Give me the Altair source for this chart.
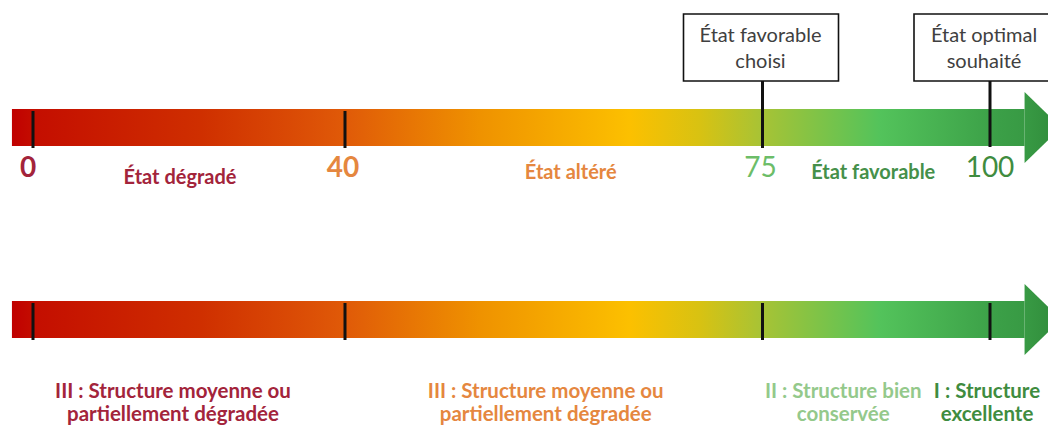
import altair as alt
import pandas as pd

# ---------------- DATA ----------------
threshold_values = [0, 40, 75, 100]
threshold_labels = ["0", "40", "75", "100"]

state_names = ["État dégradé", "État altéré", "État favorable"]
state_anchor = [20, 57.5, 87.5]

structure_names = [
    "III : Structure moyenne ou\npartiellement dégradée",
    "III : Structure moyenne ou\npartiellement dégradée",
    "II : Structure bien\nconservée",
    "I : Structure\nexcellente",
]
structure_anchor = [20, 57.5, 87.5, 100]

box_texts = ["État favorable\nchoisi", "État optimal\nsouhaité"]
box_anchor = [75, 100]

# ---------------- STYLE / LAYOUT ----------------
FONT = "Lato"
DARK_RED = "#a3243b"
ORANGE = "#e5873f"
LIGHT_GREEN = "#6cbd68"
PALE_GREEN = "#94c98b"
DARK_GREEN = "#45904a"

number_colors = [DARK_RED, ORANGE, LIGHT_GREEN, "#3f8c3f"]
number_weights = ["bold", "bold", "normal", "normal"]
number_dx = [-5, -2, -2, 0]

state_colors = [DARK_RED, ORANGE, DARK_GREEN]
state_dx = [-9, 17, -3]
state_y = [178, 173, 173]

structure_colors = [DARK_RED, ORANGE, PALE_GREEN, "#3f8c3f"]
structure_dx = [-16, -8, -33, -3]

box_offsets = [(-79, 76), (-76, 63)]
box_text_dx = [-2, -6]

XSCALE = alt.Scale(domain=[0, 40, 75, 100], range=[25, 337, 754.5, 982],
                   zero=False, nice=False, clamp=False)
YSCALE = alt.Scale(domain=[8, 426], range=[0, 418], zero=False, nice=False)


def X(f):
    return alt.X(f, type="quantitative", scale=XSCALE, axis=None)


def Y(f):
    return alt.Y(f, type="quantitative", scale=YSCALE, axis=None, stack=None)


# arrow shape (value units along x, image rows along y)
ARROW_START, HEAD_BASE, TIP = -2.7, 103.8, 107.8
rows = {"top": (109, 146, 92, 163), "bottom": (301, 338, 284, 355)}
bar_rows, head_rows = [], []
for name, (bt, bb, ht, hb) in rows.items():
    mid = (bt + bb) / 2
    bar_rows.append({"row": name, "x": ARROW_START, "x2": HEAD_BASE, "y": bt, "y2": bb})
    head_rows.append({"row": name, "x": HEAD_BASE, "y": ht, "y2": hb})
    head_rows.append({"row": name, "x": TIP, "y": mid, "y2": mid})

bar_gradient = alt.LinearGradient(
    gradient="linear", x1=0, y1=0, x2=1, y2=0,
    stops=[
        alt.GradientStop(offset=0.0, color="#c00000"),
        alt.GradientStop(offset=0.023, color="#c40e00"),
        alt.GradientStop(offset=0.186, color="#cf2f00"),
        alt.GradientStop(offset=0.329, color="#e05a08"),
        alt.GradientStop(offset=0.462, color="#ef9200"),
        alt.GradientStop(offset=0.61, color="#fcc000"),
        alt.GradientStop(offset=0.679, color="#d8c212"),
        alt.GradientStop(offset=0.738, color="#a9c334"),
        alt.GradientStop(offset=0.857, color="#53c35b"),
        alt.GradientStop(offset=0.975, color="#3b9f47"),
        alt.GradientStop(offset=1.0, color="#389a44"),
    ],
)
head_gradient = alt.LinearGradient(
    gradient="linear", x1=0, y1=0, x2=1, y2=0,
    stops=[
        alt.GradientStop(offset=0.0, color="#389a44"),
        alt.GradientStop(offset=1.0, color="#2f8a3a"),
    ],
)

layers = []

layers.append(
    alt.Chart(pd.DataFrame(bar_rows)).mark_rect(fill=bar_gradient).encode(
        x=X("x"), x2=alt.X2("x2"), y=Y("y"), y2=alt.Y2("y2")
    )
)
layers.append(
    alt.Chart(pd.DataFrame(head_rows)).mark_area(fill=head_gradient, orient="vertical").encode(
        x=X("x"), y=Y("y"), y2=alt.Y2("y2"), detail="row:N"
    )
)

# ticks
tick_rows = []
top_y1 = [111, 111, 81, 81]
top_y2 = [148, 148, 148, 147]
for v, a, b in zip(threshold_values, top_y1, top_y2):
    tick_rows.append({"v": v, "y": a, "y2": b})
for v in threshold_values:
    tick_rows.append({"v": v, "y": 303, "y2": 340})
layers.append(
    alt.Chart(pd.DataFrame(tick_rows)).mark_rule(color="#111111", strokeWidth=3).encode(
        x=X("v"), y=Y("y"), y2=alt.Y2("y2")
    )
)

# boxes
for v, (o1, o2), t, tdx in zip(box_anchor, box_offsets, box_texts, box_text_dx):
    df = pd.DataFrame({"v": [v], "t": [t], "y": [14], "y2": [81], "yc": [36]})
    layers.append(
        alt.Chart(df).mark_rect(fill="white", stroke="#111111", strokeWidth=1.6,
                                xOffset=o1, x2Offset=o2).encode(
            x=X("v"), x2=alt.X2("v"), y=Y("y"), y2=alt.Y2("y2")
        )
    )
    layers.append(
        alt.Chart(df).mark_text(font=FONT, fontSize=20, color="#404040", lineBreak="\n",
                                lineHeight=26, baseline="middle", align="center", dx=tdx).encode(
            x=X("v"), y=Y("yc"), text="t:N"
        )
    )

# numbers
for v, lab, c, w, dx in zip(threshold_values, threshold_labels, number_colors, number_weights, number_dx):
    df = pd.DataFrame({"v": [v], "t": [lab], "y": [169]})
    layers.append(
        alt.Chart(df).mark_text(font=FONT, fontSize=28, fontWeight=w, color=c,
                                baseline="middle", align="center", dx=dx).encode(
            x=X("v"), y=Y("y"), text="t:N"
        )
    )

# state labels
for v, lab, c, dx, yy in zip(state_anchor, state_names, state_colors, state_dx, state_y):
    df = pd.DataFrame({"v": [v], "t": [lab], "y": [yy]})
    layers.append(
        alt.Chart(df).mark_text(font=FONT, fontSize=20, fontWeight="bold", color=c,
                                baseline="middle", align="center", dx=dx).encode(
            x=X("v"), y=Y("y"), text="t:N"
        )
    )

# structure labels
for v, lab, c, dx in zip(structure_anchor, structure_names, structure_colors, structure_dx):
    df = pd.DataFrame({"v": [v], "t": [lab], "y": [392]})
    layers.append(
        alt.Chart(df).mark_text(font=FONT, fontSize=20.5, fontWeight="bold", color=c,
                                lineBreak="\n", lineHeight=23,
                                baseline="middle", align="center", dx=dx).encode(
            x=X("v"), y=Y("y"), text="t:N"
        )
    )

chart = alt.layer(*layers).properties(
    width=1040, height=418, padding=0, background="white",
    autosize=alt.AutoSizeParams(type="none"),
).configure_view(stroke=None)

chart.save("out.html", embed_options={"renderer": "svg", "actions": False})
